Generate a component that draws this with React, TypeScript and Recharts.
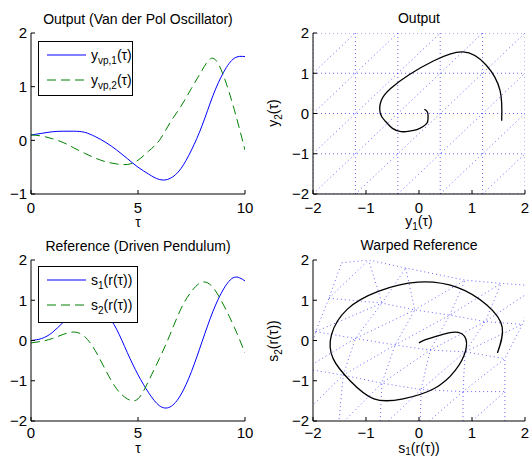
import React from "react";
import { LineChart, Line, XAxis, YAxis, Legend } from "recharts";

// time samples shared by all four curves
const tau = [0, 0.5, 1, 1.5, 2, 2.5, 3, 3.5, 4, 4.5, 5, 5.5, 6, 6.5, 7, 7.5, 8, 8.5, 9, 9.5, 10];

// Van der Pol output
const y1Vals = [0.1, 0.13, 0.16, 0.17, 0.17, 0.15, 0.07, -0.04, -0.18, -0.34, -0.5, -0.63, -0.73, -0.71, -0.53, -0.18, 0.28, 0.83, 1.27, 1.53, 1.56];
const y2Vals = [0.1, 0.08, 0.03, -0.04, -0.14, -0.24, -0.33, -0.4, -0.44, -0.45, -0.37, -0.2, 0.0, 0.33, 0.63, 0.97, 1.31, 1.53, 1.2, 0.57, -0.18];

// driven pendulum reference, warped in time
const s1Vals = [0, 0.05, 0.2, 0.45, 0.68, 0.86, 0.88, 0.68, 0.28, -0.3, -0.85, -1.3, -1.62, -1.65, -1.35, -0.77, -0.02, 0.72, 1.28, 1.57, 1.48];
const s2Vals = [-0.06, -0.02, 0.05, 0.15, 0.21, 0.1, -0.25, -0.75, -1.2, -1.45, -1.45, -1.0, -0.45, 0.15, 0.78, 1.22, 1.45, 1.32, 0.88, 0.33, -0.31];

// regular mesh nodes (output plane)
const gridX = [-2, -1.2, -0.4, 0.4, 1.2, 2];
const gridY = [-2, -1, 0, 1, 2];

// warped mesh nodes, rows bottom -> top
const warpX = [
  [-2.35, -1.52, -0.74, 0.02, 0.83, 1.62],
  [-2.15, -1.43, -0.7, 0.04, 0.83, 1.62],
  [-1.95, -1.2, -0.45, 0.21, 0.87, 1.62],
  [-1.7, -0.7, -0.08, 0.58, 1.25, 1.95],
  [-1.46, -0.95, -0.25, 0.87, 1.55, 2.25],
];
const warpY = [
  [-2.05, -2.15, -2.2, -2.2, -2.2, -2.2],
  [-0.7, -0.86, -1.06, -1.22, -1.27, -1.27],
  [0.22, 0.05, -0.11, -0.24, -0.28, -0.45],
  [1.05, 0.93, 0.76, 0.63, 0.47, 0.4],
  [1.93, 2.0, 1.8, 1.5, 1.42, 1.35],
];

const timeTicks = [0, 5, 10];
const outTicks = [-1, 0, 1, 2];
const fourTicks = [-2, -1, 0, 1, 2];

const FONT = '"Liberation Sans", Arial, Helvetica, sans-serif';
const tickStyle = { fontSize: 15, fill: "#000", fontFamily: FONT };
const minus = (v: number) => String(v).replace("-", "\u2212");
const blank = () => "";

type Pt = { x: number; y: number };

function meshLines(xs: number[][], ys: number[][]): Pt[][] {
  const rows = xs.length;
  const cols = xs[0].length;
  const node = (i: number, j: number) => ({ x: xs[j][i], y: ys[j][i] });
  const lines: Pt[][] = [];
  for (let j = 0; j < rows; j++) lines.push(xs[j].map((_, i) => node(i, j)));
  for (let i = 0; i < cols; i++) lines.push(xs.map((_, j) => node(i, j)));
  const starts: number[][] = [];
  for (let i = 0; i < cols - 1; i++) starts.push([i, 0]);
  for (let j = 1; j < rows - 1; j++) starts.push([0, j]);
  for (const [i0, j0] of starts) {
    const pts: Pt[] = [];
    for (let i = i0, j = j0; i < cols && j < rows; i++, j++) pts.push(node(i, j));
    lines.push(pts);
  }
  return lines;
}

const outMesh = meshLines(
  gridY.map(() => gridX),
  gridY.map((y) => gridX.map(() => y))
);
const refMesh = meshLines(warpX, warpY);

const outSeries = tau.map((t, k) => ({ t, a: y1Vals[k], b: y2Vals[k] }));
const refSeries = tau.map((t, k) => ({ t, a: s1Vals[k], b: s2Vals[k] }));
const outPhase = tau.map((_, k) => ({ x: y1Vals[k], y: y2Vals[k] }));
const refPhase = tau.map((_, k) => ({ x: s1Vals[k], y: s2Vals[k] }));

const sub = (s: string, drop = 4) => (
  <sub style={{ fontSize: 10, verticalAlign: -drop, lineHeight: 0 }}>{s}</sub>
);

type LegendItem = { label: React.ReactNode; color: string; dash?: string };

function LegendBox({ items, width, height }: { items: LegendItem[]; width: number; height: number }) {
  return (
    <div
      style={{
        width,
        height,
        border: "1px solid #000",
        background: "#fff",
        boxSizing: "border-box",
        position: "relative",
        fontFamily: FONT,
        fontSize: 14,
        color: "#000",
      }}
    >
      {items.map((it, k) => (
        <div
          key={k}
          style={{ position: "absolute", left: 0, top: 3 + k * 25, height: 20, display: "flex", alignItems: "center" }}
        >
          <svg width={50} height={20} style={{ display: "block" }}>
            <line x1={8} x2={47} y1={10} y2={10} stroke={it.color} strokeDasharray={it.dash} strokeWidth={1} />
          </svg>
          <span style={{ marginLeft: 2, lineHeight: "20px", whiteSpace: "nowrap" }}>{it.label}</span>
        </div>
      ))}
    </div>
  );
}

type TimeProps = {
  top: number;
  height: number;
  marginTop: number;
  xAxisHeight: number;
  tickGap: number;
  data: { t: number; a: number; b: number }[];
  yDomain: [number, number];
  yTicks: number[];
  items: LegendItem[];
  legendBox: { left: number; top: number; width: number; height: number };
};

function TimePlot(p: TimeProps) {
  return (
    <div style={{ position: "absolute", left: 0, top: p.top }}>
      <LineChart width={265} height={p.height} data={p.data} margin={{ top: p.marginTop, right: 20, bottom: 0, left: 0 }}>
        <XAxis dataKey="t" type="number" domain={[0, 10]} ticks={timeTicks} allowDataOverflow height={p.xAxisHeight}
          tickSize={-4} tickMargin={p.tickGap} tick={tickStyle} stroke="#000" tickFormatter={minus} />
        <XAxis xAxisId="top" orientation="top" dataKey="t" type="number" domain={[0, 10]} ticks={timeTicks}
          allowDataOverflow height={0} tickSize={-4} tickFormatter={blank} stroke="#000" />
        <YAxis type="number" domain={p.yDomain} ticks={p.yTicks} allowDataOverflow width={31}
          tickSize={-4} tickMargin={8} tick={tickStyle} stroke="#000" tickFormatter={minus} />
        <YAxis yAxisId="right" orientation="right" type="number" domain={p.yDomain} ticks={p.yTicks}
          allowDataOverflow width={0} tickSize={-4} tickFormatter={blank} stroke="#000" />
        <Line dataKey="a" type="natural" stroke="#0000ff" strokeWidth={1} dot={false} activeDot={false} isAnimationActive={false} />
        <Line dataKey="b" type="natural" stroke="#008000" strokeWidth={1} strokeDasharray="9 5" dot={false} activeDot={false} isAnimationActive={false} />
        <Legend
          layout="vertical"
          align="center"
          verticalAlign="middle"
          wrapperStyle={{ ...p.legendBox }}
          content={() => <LegendBox items={p.items} width={p.legendBox.width} height={p.legendBox.height} />}
        />
      </LineChart>
    </div>
  );
}

type PhaseProps = {
  top: number;
  height: number;
  marginTop: number;
  xAxisHeight: number;
  tickGap: number;
  mesh: Pt[][];
  curve: Pt[];
};

function PhasePlot(p: PhaseProps) {
  return (
    <div style={{ position: "absolute", left: 265, top: p.top }}>
      <LineChart width={266} height={p.height} margin={{ top: p.marginTop, right: 6, bottom: 0, left: 0 }}>
        <XAxis dataKey="x" type="number" domain={[-2, 2]} ticks={fourTicks} allowDataOverflow height={p.xAxisHeight}
          tickSize={-4} tickMargin={p.tickGap} tick={tickStyle} stroke="#000" tickFormatter={minus} />
        <YAxis dataKey="y" type="number" domain={[-2, 2]} ticks={fourTicks} allowDataOverflow width={48}
          tickSize={-4} tickMargin={8} tick={tickStyle} stroke="#000" tickFormatter={minus} />
        {p.mesh.map((pts, k) => (
          <Line key={k} data={pts} dataKey="y" type="linear" stroke="#0000ff" strokeOpacity={0.6} strokeWidth={1}
            strokeDasharray="1 3" dot={false} activeDot={false} isAnimationActive={false} />
        ))}
        <Line data={p.curve} dataKey="y" type="natural" stroke="#000" strokeWidth={1.3} dot={false} activeDot={false} isAnimationActive={false} />
      </LineChart>
    </div>
  );
}

const textBase: React.CSSProperties = {
  position: "absolute",
  fontFamily: FONT,
  fontSize: 14,
  lineHeight: "13px",
  textAlign: "center",
  color: "#000",
  whiteSpace: "nowrap",
};

function Text({ left, top, width, children }: { left: number; top: number; width: number; children: React.ReactNode }) {
  return <div style={{ ...textBase, left, top, width }}>{children}</div>;
}

function VText({ cx, cy, children }: { cx: number; cy: number; children: React.ReactNode }) {
  return (
    <div style={{ ...textBase, left: cx - 60, top: cy - 7, width: 120, height: 14, lineHeight: "14px", transform: "rotate(-90deg)" }}>
      {children}
    </div>
  );
}

export default function App() {
  return (
    <div style={{ position: "absolute", left: 0, top: 0, width: 531, height: 456, background: "#fff", overflow: "hidden" }}>
      <TimePlot
        top={0}
        height={228}
        marginTop={33}
        xAxisHeight={34}
        tickGap={12}
        data={outSeries}
        yDomain={[-1, 2]}
        yTicks={outTicks}
        items={[
          { label: <>y{sub("vp,1")}(τ)</>, color: "#0000ff" },
          { label: <>y{sub("vp,2")}(τ)</>, color: "#008000", dash: "9 5" },
        ]}
        legendBox={{ left: 38, top: 41, width: 95, height: 55 }}
      />
      <TimePlot
        top={228}
        height={228}
        marginTop={32}
        xAxisHeight={35}
        tickGap={10}
        data={refSeries}
        yDomain={[-2, 2]}
        yTicks={fourTicks}
        items={[
          { label: <>s{sub("1")}(r(τ))</>, color: "#0000ff" },
          { label: <>s{sub("2")}(r(τ))</>, color: "#008000", dash: "9 5" },
        ]}
        legendBox={{ left: 38, top: 38, width: 100, height: 57 }}
      />
      <PhasePlot top={0} height={228} marginTop={33} xAxisHeight={34} tickGap={12} mesh={outMesh} curve={outPhase} />
      <PhasePlot top={228} height={228} marginTop={32} xAxisHeight={35} tickGap={10} mesh={refMesh} curve={refPhase} />

      <Text left={31} top={13} width={214}>Output (Van der Pol Oscillator)</Text>
      <Text left={313} top={12} width={212}>Output</Text>
      <Text left={31} top={240} width={214}>Reference (Driven Pendulum)</Text>
      <Text left={313} top={239} width={212}>Warped Reference</Text>

      <Text left={31} top={216} width={214}>τ</Text>
      <Text left={31} top={442} width={214}>τ</Text>
      <Text left={313} top={215} width={212}>y{sub("1")}(τ)</Text>
      <Text left={313} top={442} width={212}>s{sub("1", 2)}(r(τ))</Text>
      <VText cx={273} cy={113}>y{sub("2")}(τ)</VText>
      <VText cx={273} cy={341}>s{sub("2")}(r(τ))</VText>
    </div>
  );
}
